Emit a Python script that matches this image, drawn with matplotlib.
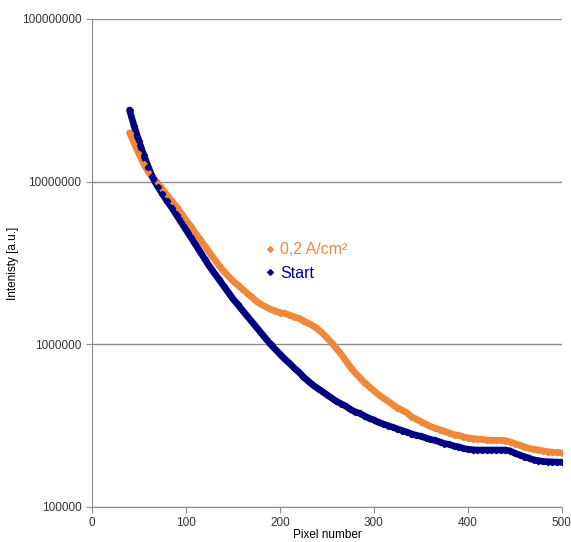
import matplotlib.pyplot as plt
import numpy as np

plt.rcParams['font.family'] = ['Liberation Sans', 'DejaVu Sans']

# pixel number, every 5th pixel
pixel = list(range(40, 501, 5))

# log10 of intensity
start_log10 = [7.44, 7.34, 7.25, 7.165, 7.09, 7.02, 6.97, 6.925, 6.88, 6.84,
               6.795, 6.75, 6.705, 6.66, 6.615, 6.57, 6.525, 6.48, 6.44, 6.40,
               6.36, 6.32, 6.28, 6.245, 6.21, 6.175, 6.14, 6.105, 6.07, 6.035,
               6.00, 5.97, 5.94, 5.91, 5.885, 5.855, 5.83, 5.80, 5.775, 5.75,
               5.73, 5.71, 5.69, 5.67, 5.65, 5.635, 5.62, 5.60, 5.585, 5.575,
               5.56, 5.545, 5.535, 5.52, 5.51, 5.50, 5.49, 5.48, 5.47, 5.46,
               5.45, 5.44, 5.435, 5.425, 5.415, 5.41, 5.40, 5.39, 5.385, 5.375,
               5.37, 5.36, 5.355, 5.352, 5.35, 5.35, 5.35, 5.35, 5.35, 5.35,
               5.35, 5.345, 5.33, 5.32, 5.31, 5.30, 5.29, 5.285, 5.28, 5.278,
               5.277, 5.276, 5.275]

current_log10 = [7.30, 7.235, 7.17, 7.11, 7.06, 7.025, 6.99, 6.955, 6.915, 6.88,
                 6.845, 6.805, 6.765, 6.725, 6.685, 6.645, 6.605, 6.565, 6.525, 6.485,
                 6.45, 6.42, 6.39, 6.365, 6.34, 6.315, 6.29, 6.265, 6.245, 6.23,
                 6.215, 6.205, 6.195, 6.19, 6.18, 6.17, 6.16, 6.145, 6.13, 6.115,
                 6.095, 6.07, 6.04, 6.01, 5.975, 5.94, 5.90, 5.86, 5.825, 5.795,
                 5.765, 5.74, 5.715, 5.69, 5.67, 5.65, 5.63, 5.61, 5.595, 5.58,
                 5.555, 5.54, 5.525, 5.51, 5.495, 5.485, 5.475, 5.465, 5.455, 5.445,
                 5.44, 5.432, 5.425, 5.42, 5.418, 5.415, 5.412, 5.41, 5.41, 5.41,
                 5.408, 5.40, 5.39, 5.38, 5.37, 5.36, 5.355, 5.35, 5.345, 5.34,
                 5.337, 5.335, 5.334]

start = np.power(10.0, start_log10)
current = np.power(10.0, current_log10)

orange = '#F0883A'
navy = '#000080'
grey = '#8C8C8C'

fig = plt.figure(figsize=(5.71, 5.42), dpi=100)
ax = fig.add_axes([0.161, 0.0646, 0.823, 0.9004])

# thick line under the markers so the dense points look continuous
ax.plot(pixel, current, color=orange, lw=4.8, solid_capstyle='round')
ax.plot(pixel, start, color=navy, lw=4.8, solid_capstyle='round')
ax.plot(pixel, current, 'D', color=orange, ms=3.2, label='0,2 A/cm²')
ax.plot(pixel, start, 'D', color=navy, ms=3.2, label='Start')

ax.set_yscale('log')
ax.set_ylim(1e5, 1e8)
ax.set_xlim(0, 500)
ax.set_yticks([1e5, 1e6, 1e7, 1e8])
ax.set_yticklabels(['100000', '1000000', '10000000', '100000000'])
ax.minorticks_off()
ax.set_xticks([0, 100, 200, 300, 400, 500])

ax.grid(axis='y', color=grey, lw=1)
ax.set_axisbelow(True)
for s in ['top', 'right']:
    ax.spines[s].set_visible(False)
for s in ['left', 'bottom']:
    ax.spines[s].set_color(grey)
ax.tick_params(colors=grey, labelcolor='#333333', labelsize=8.5, length=4)

ax.set_xlabel('Pixel number', fontsize=8.5, labelpad=0)
ax.set_ylabel('Intenisty [a.u.]', fontsize=8.5, labelpad=2)

ax.legend(loc='upper left', bbox_to_anchor=(0.34, 0.572), frameon=False,
          fontsize=11.5, labelcolor='linecolor', handlelength=0.5,
          handletextpad=0.4, markerscale=0.9, labelspacing=0.55)

fig.savefig('out.png', dpi=100)
